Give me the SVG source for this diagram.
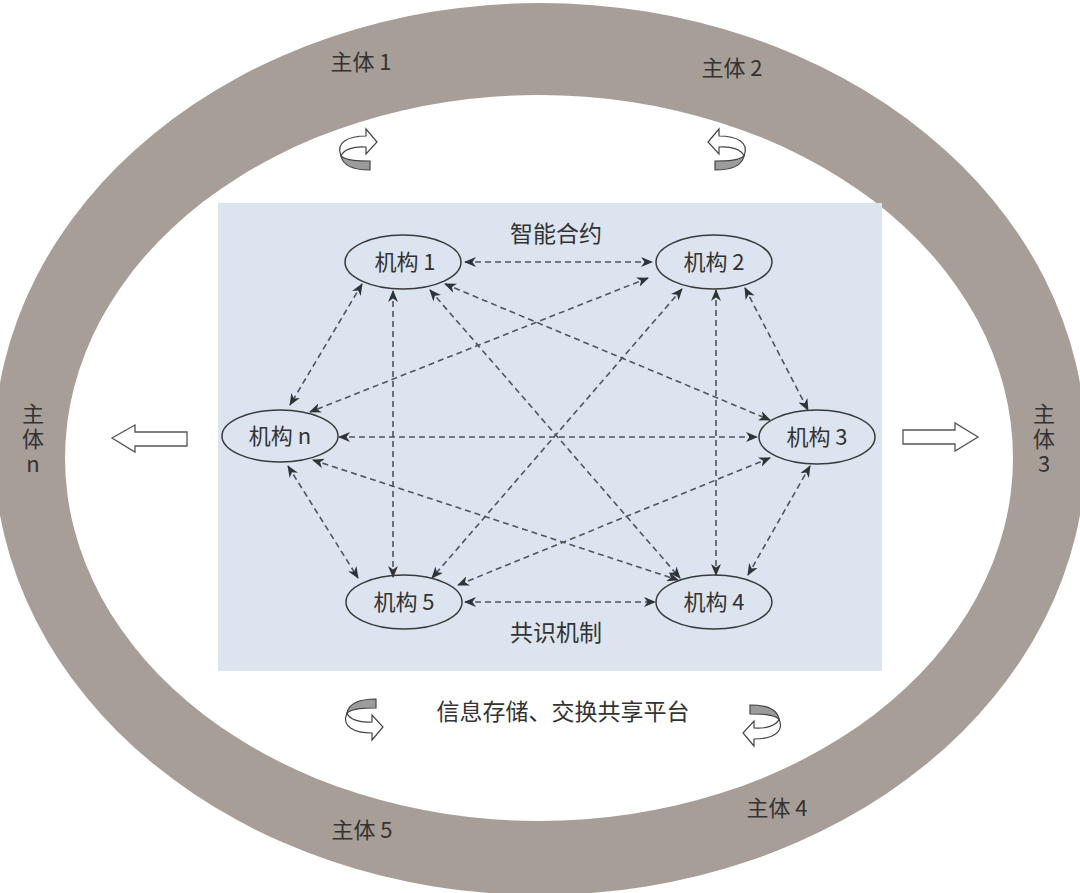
<svg xmlns="http://www.w3.org/2000/svg" width="1080" height="893" viewBox="0 0 1080 893">
<style>
.t{font-family:"Noto Sans CJK SC","Noto Sans",sans-serif;fill:#333;text-anchor:middle}
.lbl{font-size:22px}
.big{font-size:23px}
.nt{font-size:22px}
.vt{font-family:"Noto Sans CJK SC","Noto Sans",sans-serif;fill:#333;font-size:22px;writing-mode:vertical-rl;text-orientation:upright;letter-spacing:3px}
.nd{fill:none;stroke:#3a3a3a;stroke-width:1.5}
.e{stroke:#50555b;stroke-width:1.6;stroke-dasharray:6 4;fill:none;marker-start:url(#ah);marker-end:url(#ah)}
.blk{fill:#fff;stroke:#555;stroke-width:1.3}
.cw{fill:#fff;stroke:#444;stroke-width:1.2}
.cg{fill:#9c9c9c;stroke:#444;stroke-width:1.2}
</style>
<defs>
<marker id="ah" viewBox="0 0 12 10" refX="11" refY="5" markerWidth="12" markerHeight="10" markerUnits="userSpaceOnUse" orient="auto-start-reverse">
<path d="M0,0 L12,5 L0,10 L3.5,5 Z" fill="#2f3336"/>
</marker>
<g id="curl">
<path class="cw" d="M-16,6 C-22,-8 -8,-14 9,-14 L9,-21 L20,-8 L9,4 L9,-3 C-4,-4 -14,0 -16,6 Z"/>
<path class="cg" d="M-16,6 C-14,16 -2,20 13,20 L13,11 C2,11 -10,11 -16,6 Z"/>
</g>
</defs>
<rect width="1080" height="893" fill="#fff"/>
<g id="ring">
<ellipse cx="540" cy="449" rx="546" ry="446" fill="#a79e97"/>
<ellipse cx="539" cy="458" rx="474" ry="363" fill="#fff"/>
</g>
<rect id="platform" x="218" y="203" width="664" height="468" fill="#dce5ef"/>
<g id="ring-labels">
<text class="t lbl" x="361" y="70">主体 1</text>
<text class="t lbl" x="732" y="76">主体 2</text>
<text class="t lbl" x="777" y="816">主体 4</text>
<text class="t lbl" x="362" y="838">主体 5</text>
<text class="vt" x="1044" y="403">主体3</text>
<text class="vt" x="33" y="403">主体n</text>
</g>
<g id="curls">
<use href="#curl" transform="translate(357,150)"/>
<use href="#curl" transform="translate(728,150) scale(-1,1)"/>
<use href="#curl" transform="translate(363,719) scale(1,-1)"/>
<use href="#curl" transform="translate(763,725) scale(-1,-1)"/>
</g>
<g id="block-arrows">
<path class="blk" d="M187,432 L135,432 L135,425 L112,438 L135,452 L135,446 L187,446 Z"/>
<path class="blk" d="M903,430 L955,430 L955,423 L978,437 L955,451 L955,444 L903,444 Z"/>
</g>
<g id="connectors">
<line class="e" x1="465" y1="262" x2="652" y2="262"/>
<line class="e" x1="362" y1="284" x2="290" y2="405"/>
<line class="e" x1="393" y1="291" x2="393" y2="577"/>
<line class="e" x1="430" y1="290" x2="680" y2="578"/>
<line class="e" x1="445" y1="284" x2="770" y2="420"/>
<line class="e" x1="648" y1="278" x2="310" y2="412"/>
<line class="e" x1="682" y1="289" x2="432" y2="578"/>
<line class="e" x1="716" y1="290" x2="716" y2="575"/>
<line class="e" x1="745" y1="288" x2="808" y2="410"/>
<line class="e" x1="339" y1="437" x2="757" y2="437"/>
<line class="e" x1="288" y1="466" x2="358" y2="578"/>
<line class="e" x1="313" y1="460" x2="678" y2="580"/>
<line class="e" x1="770" y1="458" x2="458" y2="585"/>
<line class="e" x1="810" y1="466" x2="748" y2="575"/>
<line class="e" x1="465" y1="602" x2="655" y2="602"/>
</g>
<g id="node-1"><ellipse class="nd" cx="403" cy="262" rx="58" ry="27"/><text class="t nt" x="405" y="270">机构 1</text></g>
<g id="node-2"><ellipse class="nd" cx="714" cy="262" rx="58" ry="27"/><text class="t nt" x="714" y="270">机构 2</text></g>
<g id="node-3"><ellipse class="nd" cx="817" cy="437" rx="58" ry="27"/><text class="t nt" x="817" y="445">机构 3</text></g>
<g id="node-4"><ellipse class="nd" cx="714" cy="602" rx="58" ry="27"/><text class="t nt" x="714" y="610">机构 4</text></g>
<g id="node-5"><ellipse class="nd" cx="404" cy="602" rx="58" ry="27"/><text class="t nt" x="404" y="610">机构 5</text></g>
<g id="node-n"><ellipse class="nd" cx="280" cy="436" rx="58" ry="26"/><text class="t nt" x="280" y="444">机构 n</text></g>
<g id="labels">
<text class="t big" x="556" y="242">智能合约</text>
<text class="t big" x="556" y="641">共识机制</text>
<text class="t big" x="563" y="720">信息存储、交换共享平台</text>
</g>
</svg>
